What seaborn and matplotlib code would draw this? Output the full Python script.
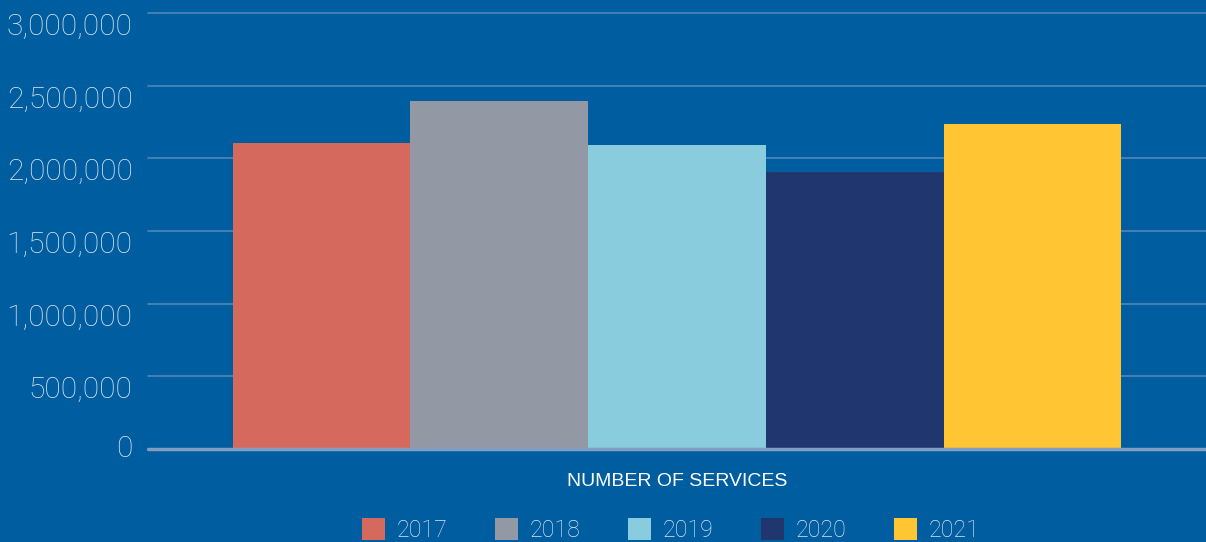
import pandas as pd
import matplotlib.pyplot as plt
import matplotlib.ticker as mticker
import seaborn as sns

# data
category = ['NUMBER OF SERVICES']
years = ['2017', '2018', '2019', '2020', '2021']
services = [2105000, 2393000, 2091000, 1905000, 2236000]
colors = ['#D6695E', '#9298A4', '#88CCDD', '#1F366E', '#FFC532']
y_ticks = [0, 500000, 1000000, 1500000, 2000000, 2500000, 3000000]

bg = '#005DA0'
text_color = '#DCE6F0'

df = pd.DataFrame({
    'category': category * len(years),
    'year': years,
    'services': services,
})

sns.set_style('white')
plt.rcParams['font.family'] = ['Roboto', 'DejaVu Sans']

fig = plt.figure(figsize=(12.06, 5.42), dpi=100, facecolor=bg)
ax = fig.add_axes([148 / 1206, 1 - 449 / 542, 1 - 148 / 1206, (449 - 13) / 542])
ax.set_facecolor(bg)

sns.barplot(data=df, x='category', y='services', hue='year', palette=colors,
            width=0.84, saturation=1, gap=0, linewidth=0, ax=ax, legend=False)

ax.set_ylim(0, 3000000)
ax.set_xlim(-0.5, 0.5)
ax.set_yticks(y_ticks, [f'{v:,}' for v in y_ticks])

for v in y_ticks[1:]:
    ax.axhline(v, color='#4F87B9', lw=1.2, zorder=0, clip_on=False)
ax.axhline(0, color='#7E9DC0', lw=2.5, zorder=3, clip_on=False)

for s in ax.spines.values():
    s.set_visible(False)

ax.tick_params(axis='y', length=0, pad=11, labelsize=21.5, labelcolor=text_color)
# labels sit just under their gridline, except the zero label
for v, lab in zip(y_ticks, ax.get_yticklabels()):
    lab.set_fontweight('light')
    lab.set_va('center' if v == 0 else 'top')

ax.tick_params(axis='x', length=0, pad=17, labelcolor='white')
for lab in ax.get_xticklabels():
    lab.set_family(['Liberation Sans Narrow', 'Liberation Sans', 'DejaVu Sans'])
    lab.set_fontsize(14)
ax.set_xlabel('')
ax.set_ylabel('')

handles = [plt.Rectangle((0, 0), 1, 1, facecolor=c, edgecolor='none') for c in colors]
leg = fig.legend(handles, years, loc='center', bbox_to_anchor=(0.556, 0.022),
                 ncol=5, frameon=False, fontsize=16.7, handlelength=1.0,
                 handleheight=1.1, handletextpad=0.5, columnspacing=2.05,
                 labelcolor=text_color)
for t in leg.get_texts():
    t.set_fontweight('light')

fig.savefig('out.png', dpi=100, facecolor=bg)
